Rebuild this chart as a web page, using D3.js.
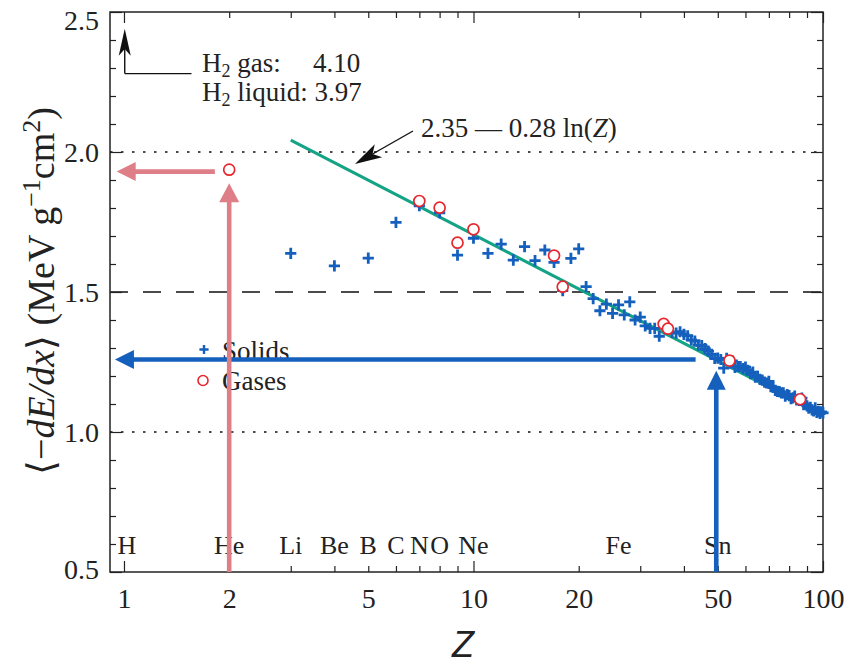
<!DOCTYPE html>
<html><head><meta charset="utf-8">
<script src="https://cdn.jsdelivr.net/npm/d3@7"></script>
<style>
body{margin:0;background:#fff}
svg{display:block}
svg text{font-family:"Liberation Serif","Times New Roman",serif;fill:#222}
</style>
</head><body>
<svg id="c" width="852" height="665"></svg>
<script>
// ---------- data ----------
const solidZ = [3,4,5,6,7,8,9,10,11,12,13,14,15,16,17,18,19,20,21,22,23,24,25,26,27,28,29,30,31,32,33,34,
  37,38,39,40,41,42,43,44,45,46,47,48,49,50,51,52,53,55,56,57,58,59,60,61,62,63,64,65,66,67,68,69,70,
  71,72,73,74,75,76,77,78,79,80,81,82,83,84,85,87,88,89,90,91,92,93,94,95,96,97,98,99,100];
const solidVal = [1.638,1.593,1.621,1.749,1.808,1.783,1.632,1.692,1.638,1.671,1.614,1.662,1.612,1.650,1.606,1.505,1.620,1.654,1.519,1.476,1.433,1.457,1.424,1.454,1.418,1.465,1.400,1.410,1.379,1.370,1.370,1.342,
  1.356,1.353,1.358,1.349,1.343,1.329,1.325,1.310,1.309,1.298,1.289,1.277,1.263,1.264,1.259,1.228,1.263,1.254,1.231,1.234,1.234,1.226,1.232,1.220,1.208,1.214,1.196,1.199,1.188,1.185,1.178,1.175,1.181,
  1.162,1.159,1.149,1.145,1.144,1.140,1.140,1.128,1.134,1.130,1.119,1.122,1.128,1.115,1.117,1.121,1.098,1.099,1.093,1.085,1.088,1.079,1.075,1.086,1.070,1.074,1.066,1.072,1.068];
const gasZ = [2,7,8,9,10,17,18,35,36,54,86];
const gasVal = [1.937,1.825,1.801,1.676,1.724,1.630,1.519,1.386,1.369,1.255,1.117];
const elemSym = ["H","He","Li","Be","B","C","N","O","Ne","Fe","Sn"];
const elemZ = [1,2,3,4,5,6,7,8,10,26,50];
const xTickLabels = [1,2,5,10,20,50,100];
const yTickLabels = [0.5,1.0,1.5,2.0,2.5];
const fitA = 2.35, fitB = 0.28;           // <-dE/dx> = 2.35 - 0.28 ln(Z)
const fitRange = [3,100];
const dottedLevels = [1.0,2.0];
const dashedLevels = [1.5];

// ---------- setup ----------
const SERIF = '"Liberation Serif","Times New Roman",serif';
const svg = d3.select("#c");
const L=110, R=823, T=12, B=572;
const x = d3.scaleLog().domain([0.912,100]).range([L,R]);
const y = d3.scaleLinear().domain([0.5,2.5]).range([B,T]);

const BLUE="#1560bd", RED="#e8262e", GREEN="#14a384", PINK="#de7f88";

// reference lines
dottedLevels.forEach(v=>svg.append("line").attr("x1",L).attr("x2",R).attr("y1",y(v)).attr("y2",y(v))
  .attr("stroke","#111").attr("stroke-width",1.3).attr("stroke-dasharray","2.5,8.5"));
dashedLevels.forEach(v=>svg.append("line").attr("x1",L).attr("x2",R).attr("y1",y(v)).attr("y2",y(v))
  .attr("stroke","#111").attr("stroke-width",1.3).attr("stroke-dasharray","18,15"));

// ticks (inward) on all sides
const minorX = [];
for (let d=1; d<=10; d*=10) for (let k=1;k<=9;k++) minorX.push(k*d);
minorX.push(100);
const majorX = [1,10,100];
const minorY = d3.range(5,26).map(i=>i/10);
const majorY = [0.5,1,1.5,2,2.5];
const isMajY = v=>majorY.some(m=>Math.abs(m-v)<1e-9);

function axisG(gen, tx, ty){ const g=svg.append("g").attr("transform",`translate(${tx},${ty})`).call(gen); g.select(".domain").remove(); g.attr("font-family",SERIF); g.selectAll("line").attr("stroke","#222").attr("stroke-width",1.2); return g; }
axisG(d3.axisBottom(x).tickValues(minorX.filter(v=>!majorX.includes(v))).tickSize(-6).tickFormat(""),0,B);
axisG(d3.axisBottom(x).tickValues(majorX).tickSize(-11).tickFormat(""),0,B);
axisG(d3.axisTop(x).tickValues(minorX.filter(v=>!majorX.includes(v))).tickSize(-6).tickFormat(""),0,T);
axisG(d3.axisTop(x).tickValues(majorX).tickSize(-11).tickFormat(""),0,T);
axisG(d3.axisLeft(y).tickValues(minorY.filter(v=>!isMajY(v))).tickSize(-6).tickFormat(""),L,0);
axisG(d3.axisLeft(y).tickValues(majorY).tickSize(-12).tickFormat(""),L,0);
axisG(d3.axisRight(y).tickValues(minorY.filter(v=>!isMajY(v))).tickSize(-6).tickFormat(""),R,0);
axisG(d3.axisRight(y).tickValues(majorY).tickSize(-12).tickFormat(""),R,0);

// tick labels
const xl = axisG(d3.axisBottom(x).tickValues(xTickLabels).tickSize(0).tickPadding(16).tickFormat(d3.format("d")),0,B);
xl.selectAll("text").attr("font-size",28).attr("fill","#222").style("font-family",SERIF);
const yl = axisG(d3.axisLeft(y).tickValues(yTickLabels).tickSize(0).tickPadding(11).tickFormat(d3.format(".1f")),L,0);
yl.selectAll("text").attr("font-size",28).attr("fill","#222").style("font-family",SERIF)
  .attr("dy",d=>d===2.5?"0.62em":(d===0.5?"0.22em":"0.34em"));

// frame
svg.append("rect").attr("x",L).attr("y",T).attr("width",R-L).attr("height",B-T)
  .attr("fill","none").attr("stroke","#222").attr("stroke-width",1.5);

// element labels
svg.append("g").selectAll("text").data(elemZ).join("text")
  .attr("x",d=>x(d)+(d===1?3:0)).attr("y",554).attr("text-anchor","middle").attr("font-size",26)
  .text((d,i)=>elemSym[i]);

// fit line
const fitZ = d3.range(0,101).map(i=>fitRange[0]*Math.pow(fitRange[1]/fitRange[0], i/100));
svg.append("path").datum(fitZ)
  .attr("d", d3.line().x(d=>x(d)).y(d=>y(fitA - fitB*Math.log(d))))
  .attr("fill","none").attr("stroke",GREEN).attr("stroke-width",3);

// solids (+)
const plus = (g,cx,cy,s,w)=>g.append("path").attr("d",`M${cx-s},${cy}H${cx+s}M${cx},${cy-s}V${cy+s}`)
  .attr("stroke",BLUE).attr("stroke-width",w||2.8).attr("fill","none");
const gs = svg.append("g");
solidZ.forEach((z,i)=>plus(gs, x(z), y(solidVal[i]), 5.6));

// gases (o)
svg.append("g").selectAll("circle").data(gasZ).join("circle")
  .attr("cx",d=>x(d)).attr("cy",(d,i)=>y(gasVal[i])).attr("r",5.5)
  .attr("fill","#fff").attr("stroke",RED).attr("stroke-width",1.7);

// legend
plus(svg, 204, 349.5, 4.6, 2.4);
svg.append("circle").attr("cx",203).attr("cy",380.5).attr("r",5).attr("fill","#fff").attr("stroke",RED).attr("stroke-width",1.6);
svg.append("text").attr("x",222).attr("y",360).attr("font-size",27).text("Solids");
svg.append("text").attr("x",222).attr("y",390).attr("font-size",27).text("Gases");

// arrows
function fatArrow(x1,y1,x2,y2,color,w,hl,hw){
  const dx=x2-x1, dy=y2-y1, len=Math.hypot(dx,dy), ux=dx/len, uy=dy/len;
  const bx=x2-ux*hl, by=y2-uy*hl, px=-uy, py=ux;
  svg.append("line").attr("x1",x1).attr("y1",y1).attr("x2",bx+ux*1).attr("y2",by+uy*1)
    .attr("stroke",color).attr("stroke-width",w);
  svg.append("path").attr("d",`M${x2},${y2}L${bx+px*hw/2},${by+py*hw/2}L${bx-px*hw/2},${by-py*hw/2}Z`).attr("fill",color);
}
function thinArrow(x1,y1,x2,y2,hl,hw){
  const dx=x2-x1, dy=y2-y1, len=Math.hypot(dx,dy), ux=dx/len, uy=dy/len;
  const bx=x2-ux*hl, by=y2-uy*hl, px=-uy, py=ux;
  const nx=x2-ux*hl*0.75, ny=y2-uy*hl*0.75;
  svg.append("line").attr("x1",x1).attr("y1",y1).attr("x2",nx).attr("y2",ny).attr("stroke","#111").attr("stroke-width",1.4);
  svg.append("path").attr("d",`M${x2},${y2}L${bx+px*hw/2},${by+py*hw/2}L${nx},${ny}L${bx-px*hw/2},${by-py*hw/2}Z`).attr("fill","#111");
}
// blue (Sn)
fatArrow(x(49.5), y(0.5), x(49.5), y(1.219), BLUE, 4.6, 19, 19);
fatArrow(x(43.2), y(1.259), x(0.942), y(1.259), BLUE, 4.6, 19, 19);
// pink (He)
fatArrow(x(2), y(0.5), x(2), y(1.888), PINK, 4.6, 19, 20);
fatArrow(x(1.82), y(1.93), x(0.953), y(1.93), PINK, 4.6, 19, 19);

// H2 off-scale arrow
svg.append("line").attr("x1",x(1.005)).attr("y1",y(2.28)).attr("x2",x(1.56)).attr("y2",y(2.28)).attr("stroke","#111").attr("stroke-width",1.4);
thinArrow(x(1.005), y(2.28), x(1.005), y(2.44), 27, 12);
// formula arrow
thinArrow(413,131,355,164,27,15);

// texts
const t1 = svg.append("text").attr("x",202).attr("y",72).attr("font-size",27);
t1.append("tspan").text("H");
t1.append("tspan").attr("dy",5).attr("font-size",18).text("2");
t1.append("tspan").attr("dy",-5).text(" gas:");
svg.append("text").attr("x",313).attr("y",72).attr("font-size",27).text("4.10");
const t2 = svg.append("text").attr("x",202).attr("y",101).attr("font-size",27);
t2.append("tspan").text("H");
t2.append("tspan").attr("dy",5).attr("font-size",18).text("2");
t2.append("tspan").attr("dy",-5).text(" liquid: 3.97");

const f = svg.append("text").attr("x",421).attr("y",137).attr("font-size",27);
f.append("tspan").text("2.35 \u2014 0.28 ln(");
f.append("tspan").attr("font-style","italic").text("Z");
f.append("tspan").text(")");

// y axis title
const yt = svg.append("text").attr("transform","translate(54,291) rotate(-90)").attr("text-anchor","middle")
  .attr("font-size",38).style("font-family",SERIF);
yt.append("tspan").text("\u27E8\u2212");
yt.append("tspan").attr("font-style","italic").text("dE/dx");
yt.append("tspan").text("\u27E9 (MeV g");
yt.append("tspan").attr("dy",-14).attr("font-size",26).text("\u22121");
yt.append("tspan").attr("dy",14).text("cm");
yt.append("tspan").attr("dy",-14).attr("font-size",26).text("2");
yt.append("tspan").attr("dy",14).text(")");

// x axis title
svg.append("text").attr("x",463).attr("y",657).attr("text-anchor","middle")
  .style("font-family","Liberation Sans, Arial, sans-serif").attr("font-style","italic").attr("font-size",36).text("Z");
</script>
</body></html>
